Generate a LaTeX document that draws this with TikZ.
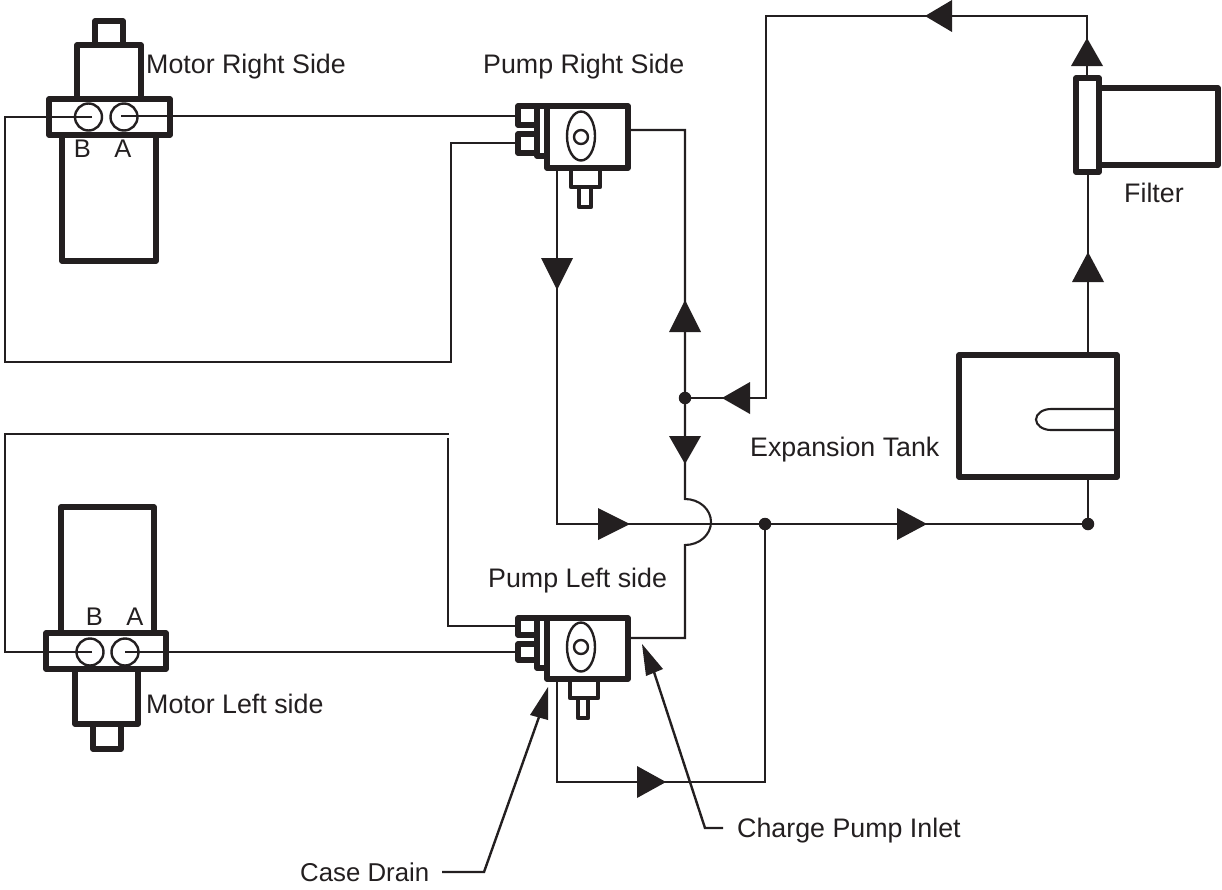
\documentclass[tikz,border=0pt]{standalone}
\usepackage{fontspec}
\setmainfont{Liberation Sans}
\usetikzlibrary{calc}
\definecolor{ink}{HTML}{231F20}
\tikzset{
  x=1pt,y=-1pt,
  pipe/.style={line width=2.1pt,draw=ink,line join=miter},
  thick box/.style={line width=5.3pt,draw=ink,line join=round},
  mid box/.style={line width=4.6pt,draw=ink,line join=round},
  port/.style={line width=2.4pt,draw=ink},
  flow/.style={fill=ink,draw=none},
  joint/.style={circle,fill=ink,minimum size=12.5pt,inner sep=0pt},
  label/.style={font=\fontsize{26.8}{29}\selectfont,text=ink,anchor=base west,inner sep=0pt},
  letter/.style={font=\fontsize{25.5}{27}\selectfont,text=ink,anchor=base,inner sep=0pt},
}
\newcommand{\flowup}[3]{\fill[flow] (#1,#2) -- (#1+16,#3) -- (#1-16,#3) -- cycle;}
\newcommand{\flowsd}[3]{\fill[flow] (#2,#3) -- (#1,#3+16) -- (#1,#3-16) -- cycle;}
\begin{document}
\begin{tikzpicture}
\useasboundingbox (0,0) rectangle (1222,889);
% junctions
\node[joint] (J1) at (685,398) {};
\node[joint] (J2) at (765,524) {};
\node[joint] (J3) at (1088,524) {};
% motor right
\draw[thick box] (95,21) rectangle (123,45);
\draw[thick box] (77,45) rectangle (141,99);
\draw[thick box] (62,135) rectangle (156,261);
\draw[thick box] (49,99) rectangle (170,135);
\draw[port] (88.5,117) circle (13.5);
\draw[port] (124,117) circle (13.5);
% motor left
\draw[thick box] (61,507) rectangle (154,633);
\draw[thick box] (75,669) rectangle (138,724);
\draw[thick box] (93,724) rectangle (121,749);
\draw[thick box] (46,633) rectangle (166,669);
\draw[port] (90,652) circle (13.5);
\draw[port] (125,652) circle (13.5);
% pump right
\draw[thick box] (547,106) rectangle (628,168);
\draw[thick box] (518,106) rectangle (537,125);
\draw[thick box] (518,134) rectangle (537,153);
\draw[thick box] (537,106) -- (537,156) -- (547,156);
\draw[thick box] (537,106) -- (547,106);
\draw[port] (581,136) ellipse (14 and 24.5);
\draw[port] (581,137) circle (7);
\draw[mid box] (571,168) -- (571,187) -- (600,187) -- (600,168);
\draw[mid box] (579,187) -- (579,207) -- (591,207) -- (591,187);
% pump left
\draw[thick box] (547,618) rectangle (628,679);
\draw[thick box] (518,618) rectangle (537,635);
\draw[thick box] (518,644) rectangle (537,660);
\draw[thick box] (537,618) -- (537,668) -- (547,668);
\draw[thick box] (537,618) -- (547,618);
\draw[port] (581,647) ellipse (14 and 24.5);
\draw[port] (581,647) circle (7);
\draw[mid box] (570,679) -- (570,698) -- (598,698) -- (598,679);
\draw[mid box] (578,698) -- (578,718) -- (588,718) -- (588,698);
% filter, tank
\draw[thick box] (1099,88) -- (1218,88) -- (1218,165) -- (1099,165);
\draw[thick box] (1076,78) rectangle (1099,172);
\draw[thick box] (959,355) rectangle (1117,477);
\draw[pipe] (1116,409) -- (1051,409) arc[start angle=-90,end angle=-270,x radius=15,y radius=10.5] -- (1116,430);
% pipe ends
\coordinate (mrb) at (92,117);
\coordinate (mra) at (121,116);
\coordinate (mlb) at (92,652);
\coordinate (mla) at (125,652);
% pipes
\draw[pipe] (mrb) -- (5,117) -- (5,362) -- (451,362) -- (451,143) -- (516,143);
\draw[pipe] (mra) -- (516,116);
\draw[pipe] (mlb) -- (5,652) -- (5,434) -- (449,434);
\draw[pipe] (448,438) -- (448,626) -- (516,626);
\draw[pipe] (mla) -- (516,652);
\draw[pipe] (630,130) -- (685,130) -- (J1.center) -- (685,499) arc[start angle=-90,end angle=90,x radius=26,y radius=23] -- (685,638) -- (630,638);
\draw[pipe] (557,170) -- (557,524) -- (J3.center);
\draw[pipe] (557,681) -- (557,782) -- (765,782) -- (J2.center);
\draw[pipe] (J3.center) -- (1088,479);
\draw[pipe] (1088,353) -- (1088,174);
\draw[pipe] (1087,76) -- (1087,16) -- (766,16) -- (766,398) -- (J1.center);
% flow arrows
\flowup{1087}{38}{66}
\flowup{1088}{252}{282}
\flowup{685}{300}{332}
\flowup{557}{290}{258}
\flowup{685}{464}{436}
\flowsd{750}{722}{398}
\flowsd{952}{925}{16}
\flowsd{598}{630}{524}
\flowsd{897}{927}{524}
\flowsd{637}{666}{782}
% leaders
\draw[pipe,line width=2.4pt] (442,872) -- (484,872) -- (539,717);
\fill[flow] (548,687) -- (548,720) -- (530,715) -- cycle;
\draw[pipe,line width=2.4pt] (723,828) -- (705,828) -- (654,672);
\fill[flow] (642,644) -- (663,669) -- (646,676) -- cycle;
% labels
\node[label] (t1) at (146,73) {Motor Right Side};
\node[label] (t2) at (483,73) {Pump Right Side};
\node[label] (t3) at (1124,202) {Filter};
\node[label] (t4) at (750,456) {Expansion Tank};
\node[label] (t5) at (488,587) {Pump Left side};
\node[label] (t6) at (146,713) {Motor Left side};
\node[label,font=\fontsize{25.8}{28}\selectfont] (t7) at (300,881) {Case Drain};
\node[label] (t8) at (737,837) {Charge Pump Inlet};
\node[letter] (b1) at (82.5,157) {B};
\node[letter] (a1) at (123,157) {A};
\node[letter] (b2) at (94.5,625) {B};
\node[letter] (a2) at (135,625) {A};
\end{tikzpicture}
\end{document}
